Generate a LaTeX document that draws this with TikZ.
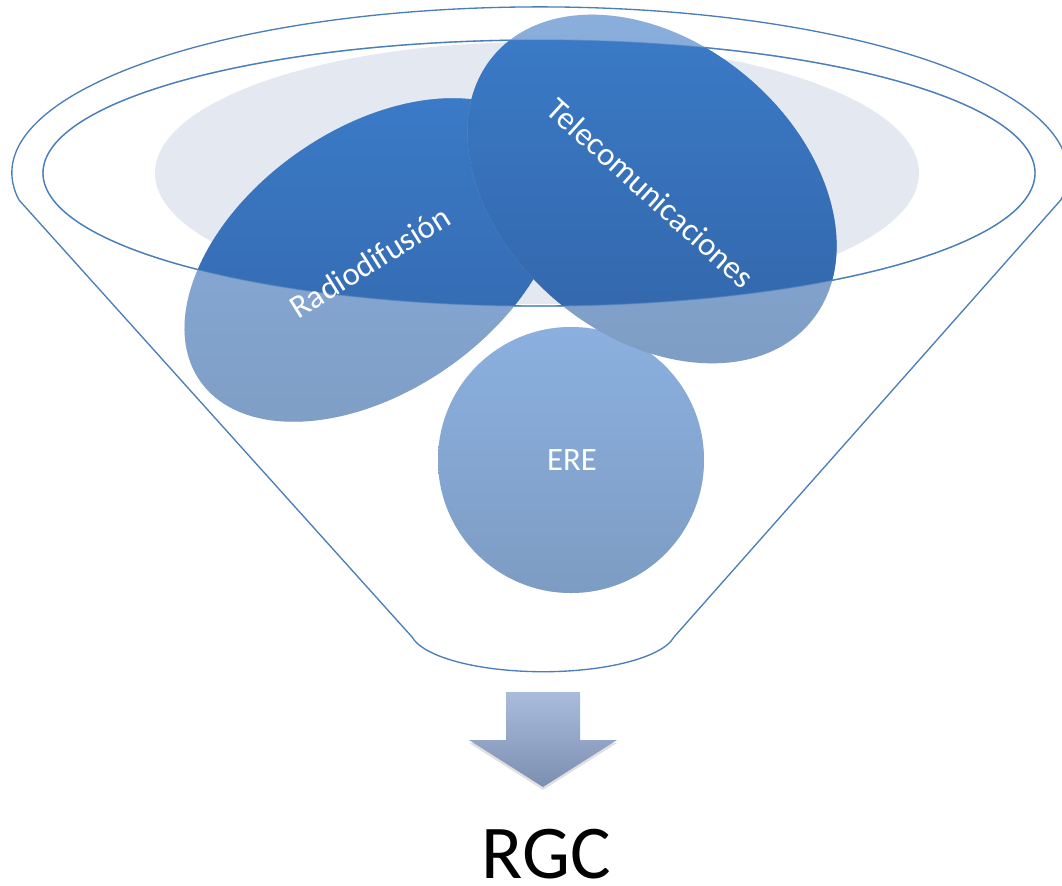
\documentclass[tikz,border=0pt]{standalone}
\usepackage{fontspec}
\setmainfont{Carlito}
\usepackage{tikz}
\usetikzlibrary{calc}
\definecolor{funnelline}{HTML}{4A7EBB}
\definecolor{funnelback}{HTML}{E3E8F1}
\definecolor{darktop}{HTML}{3C7DCB}
\definecolor{darkbot}{HTML}{3163A5}
\definecolor{lighttop}{HTML}{8BB0DF}
\definecolor{lightbot}{HTML}{7D9CC3}
\definecolor{arrowtop}{HTML}{A9BCDD}
\definecolor{arrowbot}{HTML}{7C8FB1}
\newcommand{\innerrim}{(539,173) ellipse[x radius=496, y radius=133]}
\newcommand{\makeitem}[4]{
	\fill[black, opacity=0.12, yshift=-3pt, rotate around={#4:(#1)}] (#1) ellipse[x radius=#2, y radius=#3];
	\begin{scope}
	\clip[rotate around={#4:(#1)}] (#1) ellipse[x radius=#2, y radius=#3];
	\shade[top color=lighttop, bottom color=lightbot] ($(#1)-(#2,#2)$) rectangle ($(#1)+(#2,#2)$);
	\clip \innerrim;
	\shade[top color=darktop, bottom color=darkbot] ($(#1)-(#2,#2)$) rectangle ($(#1)+(#2,#2)$);
	\end{scope}
}
\tikzset{
	itemlabel/.style={text=white, font=\fontsize{24.5}{28}\selectfont},
	rim/.style={draw=funnelline, line width=1pt}
}

\begin{document}
\begin{tikzpicture}[x=0.75pt,y=-0.75pt]
	\useasboundingbox (0,0) rectangle (1062,885);
	\coordinate (radio) at (373,260);
	\coordinate (tele) at (652,189);
	\coordinate (ere) at (571,460);

	% funnel
	\draw[rim] (19,200) arc[start angle=170.6, end angle=369.4, x radius=528, y radius=166]
		-- (674,637) arc[start angle=10, end angle=170, x radius=133, y radius=42] -- cycle;
	\fill[funnelback] (537,173) ellipse[x radius=382, y radius=131];
	\draw[rim] \innerrim;

	\makeitem{ere}{133}{133}{0}
	\makeitem{radio}{211}{131}{35}
	\makeitem{tele}{207}{147}{-40}
	\draw[rim, opacity=0.5] \innerrim;

	\node[itemlabel, rotate=32] (radiolabel) at (370,262) {Radiodifusión};
	\node[itemlabel, rotate=-42] (telelabel) at (651,193) {Telecomunicaciones};
	\node[itemlabel] (erelabel) at (572,460) {ERE};

	% arrow
	\fill[black, opacity=0.12] (469,743) -- (617,743) -- (543,790) -- cycle;
	\shade[top color=arrowtop, bottom color=arrowbot] (506,692) -- (580,692) -- (580,740) -- (617,740)
		-- (543,787) -- (469,740) -- (506,740) -- cycle;

	\node[anchor=base, font=\fontsize{57}{60}\selectfont] (rgc) at (546,878) {RGC};
\end{tikzpicture}
\end{document}
